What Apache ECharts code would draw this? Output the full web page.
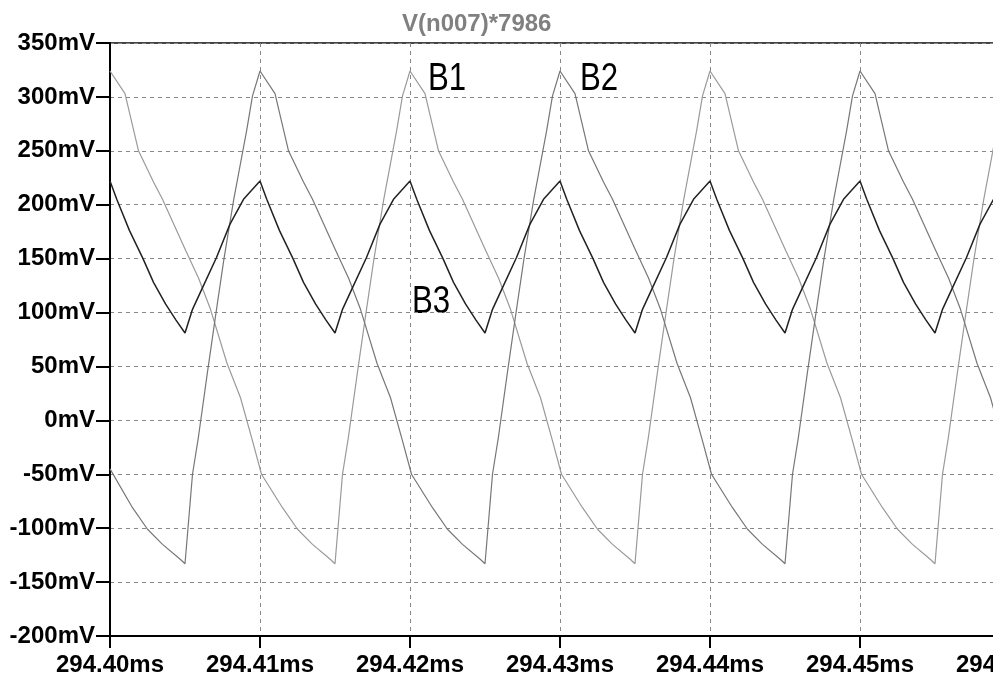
<!DOCTYPE html>
<html>
<head>
<meta charset="utf-8">
<title>V(n007)*7986</title>
<script src="https://cdn.jsdelivr.net/npm/echarts/dist/echarts.min.js"></script>
<style>
  html, body { margin: 0; padding: 0; background: #fff; }
  #charts { width: 993px; height: 676px; }
</style>
</head>
<body>
<div id="charts"></div>
<script>
// time is in us after 294.40ms, values in mV
var xTickLabels = ['294.40ms', '294.41ms', '294.42ms', '294.43ms', '294.44ms', '294.45ms', '294.46ms'];

var b1 = [
    [0,324],[1,303],[1.9,250],[2.9,221],[3.5,205],[5,159],[5.9,132],[6.7,103],[7.8,53],[8.7,21],[9.5,-19],[10.1,-50],
    [11.5,-81],[12.5,-101],[13.5,-115],[14.7,-129],[15,-133],[15.5,-50],[15.9,-15],[16.5,45],[17.1,103],[17.6,150],[18.25,205],[19.1,268],[19.5,301],
    [20,324],[21,303],[21.9,250],[22.9,221],[23.5,205],[25,159],[25.9,132],[26.7,103],[27.8,53],[28.7,21],[29.5,-19],[30.1,-50],
    [31.5,-81],[32.5,-101],[33.5,-115],[34.7,-129],[35,-133],[35.5,-50],[35.9,-15],[36.5,45],[37.1,103],[37.6,150],[38.25,205],[39.1,268],[39.5,301],
    [40,324],[41,303],[41.9,250],[42.9,221],[43.5,205],[45,159],[45.9,132],[46.7,103],[47.8,53],[48.7,21],[49.5,-19],[50.1,-50],
    [51.5,-81],[52.5,-101],[53.5,-115],[54.7,-129],[55,-133],[55.5,-50],[55.9,-15],[56.5,45],[57.1,103],[57.6,150],[58.25,205],[59.1,268],[59.5,301],
    [60,324]
];

var b2 = [
    [0,-45],[1.5,-81],[2.5,-101],[3.5,-115],[4.7,-129],[5,-133],[5.5,-50],[5.9,-15],[6.5,45],[7.1,103],[7.6,150],[8.25,205],[9.1,268],[9.5,301],
    [10,324],[11,303],[11.9,250],[12.9,221],[13.5,205],[15,159],[15.9,132],[16.7,103],[17.8,53],[18.7,21],[19.5,-19],[20.1,-50],
    [21.5,-81],[22.5,-101],[23.5,-115],[24.7,-129],[25,-133],[25.5,-50],[25.9,-15],[26.5,45],[27.1,103],[27.6,150],[28.25,205],[29.1,268],[29.5,301],
    [30,324],[31,303],[31.9,250],[32.9,221],[33.5,205],[35,159],[35.9,132],[36.7,103],[37.8,53],[38.7,21],[39.5,-19],[40.1,-50],
    [41.5,-81],[42.5,-101],[43.5,-115],[44.7,-129],[45,-133],[45.5,-50],[45.9,-15],[46.5,45],[47.1,103],[47.6,150],[48.25,205],[49.1,268],[49.5,301],
    [50,324],[51,303],[51.9,250],[52.9,221],[53.5,205],[55,159],[55.9,132],[56.7,103],[57.8,53],[58.7,21],[59.5,-19],[60.1,-50]
];

var b3 = [
    [0,222],[0.45,205],[1.3,176],[2.2,150],[2.9,128],[3.7,108],[4.4,93],[5,81],[5.5,103],[6.2,124],[7.1,151],[8,182],[8.9,205],
    [10,222],[10.45,205],[11.3,176],[12.2,150],[12.9,128],[13.7,108],[14.4,93],[15,81],[15.5,103],[16.2,124],[17.1,151],[18,182],[18.9,205],
    [20,222],[20.45,205],[21.3,176],[22.2,150],[22.9,128],[23.7,108],[24.4,93],[25,81],[25.5,103],[26.2,124],[27.1,151],[28,182],[28.9,205],
    [30,222],[30.45,205],[31.3,176],[32.2,150],[32.9,128],[33.7,108],[34.4,93],[35,81],[35.5,103],[36.2,124],[37.1,151],[38,182],[38.9,205],
    [40,222],[40.45,205],[41.3,176],[42.2,150],[42.9,128],[43.7,108],[44.4,93],[45,81],[45.5,103],[46.2,124],[47.1,151],[48,182],[48.9,205],
    [50,222],[50.45,205],[51.3,176],[52.2,150],[52.9,128],[53.7,108],[54.4,93],[55,81],[55.5,103],[56.2,124],[57.1,151],[58,182],[58.9,205],
    [60,222]
];

var myChart = echarts.init(document.getElementById('charts'));
var labelFont = { color: '#000', fontFamily: 'Liberation Sans', fontWeight: 'bold', fontSize: 24 };
var option = {
    animation: false,
    title: {
        text: 'V(n007)*7986',
        left: 402,
        top: 12,
        padding: 0,
        textStyle: { color: '#808080', fontFamily: 'Liberation Sans', fontWeight: 'bold', fontSize: 24 }
    },
    grid: {
        left: 110,
        right: -17,
        top: 43,
        bottom: 40,
        outerBoundsMode: 'none',
        containLabel: false,
        show: true,
        borderColor: '#444',
        borderWidth: 2
    },
    xAxis: {
        type: 'value',
        position: 'bottom',
        min: 0,
        max: 60,
        interval: 10,
        axisLine: { show: true, onZero: false, lineStyle: { color: '#000', width: 2 } },
        axisTick: { show: true, inside: false, length: 12, lineStyle: { color: '#000', width: 2 } },
        axisLabel: Object.assign({
            margin: 17,
            formatter: function (v) { return xTickLabels[Math.round(v / 10)]; }
        }, labelFont),
        splitLine: { lineStyle: { color: '#888', type: [4, 4], width: 1 } }
    },
    yAxis: {
        type: 'value',
        min: -200,
        max: 350,
        interval: 50,
        axisLine: { show: true, lineStyle: { color: '#000', width: 2 } },
        axisTick: { show: true, length: 14, lineStyle: { color: '#000', width: 2 } },
        axisLabel: Object.assign({
            margin: 15,
            formatter: function (v) { return v + 'mV'; }
        }, labelFont),
        splitLine: { lineStyle: { color: '#888', type: [4, 4], width: 1 } }
    },
    series: [
        { name: 'B1', type: 'line', data: b1, showSymbol: false, lineStyle: { color: '#9a9a9a', width: 1.2 } },
        { name: 'B2', type: 'line', data: b2, showSymbol: false, lineStyle: { color: '#777', width: 1.2 } },
        { name: 'B3', type: 'line', data: b3, showSymbol: false, lineStyle: { color: '#222', width: 1.5 } }
    ],
    graphic: [
        { type: 'text', x: 428, y: 60, scaleX: 0.8, style: { text: 'B1', fill: '#000', font: '39px "Liberation Sans"', textVerticalAlign: 'top' } },
        { type: 'text', x: 580, y: 60, scaleX: 0.8, style: { text: 'B2', fill: '#000', font: '39px "Liberation Sans"', textVerticalAlign: 'top' } },
        { type: 'text', x: 412, y: 283, scaleX: 0.8, style: { text: 'B3', fill: '#000', font: '39px "Liberation Sans"', textVerticalAlign: 'top' } }
    ]
};
myChart.setOption(option);
</script>
</body>
</html>
